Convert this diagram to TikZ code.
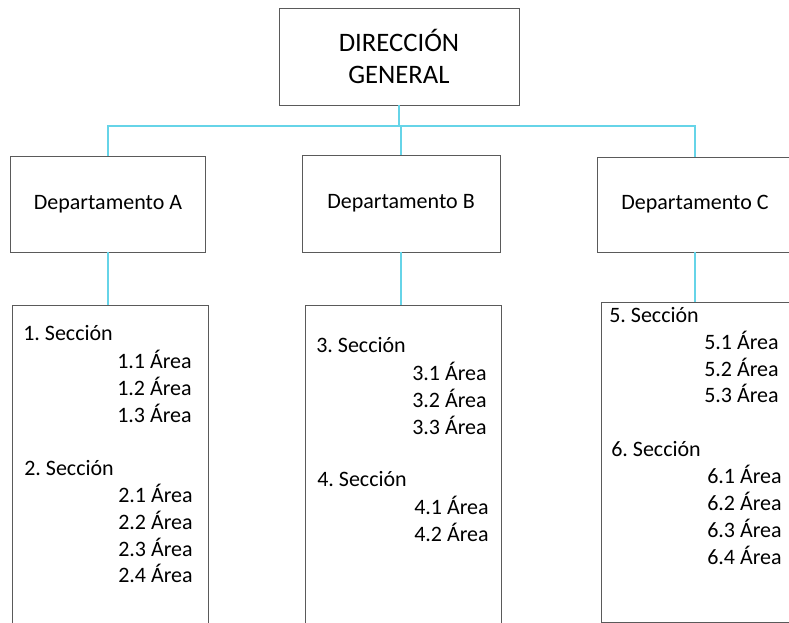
\documentclass[tikz,border=0pt]{standalone}
\usepackage{fontspec}
\setmainfont{Carlito}
\frenchspacing
\definecolor{boxgray}{HTML}{5A5A5A}
\definecolor{conncyan}{HTML}{66D4E8}
\begin{document}
\begin{tikzpicture}[x=0.75pt,y=-0.75pt,
  box/.style={draw=boxgray,line width=0.7pt,rectangle,inner sep=0pt,outer sep=0pt,align=center,font=\fontsize{16.5}{20}\selectfont},
  title/.style={box,font=\fontsize{20}{24}\selectfont},
  conn/.style={draw=conncyan,line width=1.3pt},
  item/.style={anchor=west,inner sep=0pt,font=\fontsize{16.5}{20}\selectfont}]
\clip (0,0) rectangle (789,623);
\fill[white] (0,0) rectangle (789,623);
% boxes
\node[title,minimum width=180pt,minimum height=72.75pt] (top) at (399,56.5) {DIRECCIÓN\\GENERAL};
\node[box,minimum width=146.25pt,minimum height=72pt] (depA) at (108,204) {Departamento A};
\node[box,minimum width=148.5pt,minimum height=72.75pt] (depB) at (401,203.5) {Departamento B};
\node[box,minimum width=147pt,minimum height=71.25pt] (depC) at (695,204.5) {Departamento C};
\node[box,minimum width=147pt,minimum height=251.25pt] (secA) at (110,472.5) {};
\node[box,minimum width=147pt,minimum height=251.25pt] (secB) at (403,472.5) {};
\node[box,minimum width=145.5pt,minimum height=240pt] (secC) at (698,462) {};
% connectors
\coordinate (hub) at (top.south |- 0,126);
\draw[conn] (top.south) -- (hub);
\draw[conn] (depA.north) |- (hub) -| (depC.north);
\draw[conn] (hub -| depB.north) -- (depB.north);
\draw[conn] (depA.south) -- (depA.south |- secA.north);
\draw[conn] (depB.south) -- (depB.south |- secB.north);
\draw[conn] (depC.south) -- (depC.south |- secC.north);
% section A
\node[item] (s1) at (23,333) {1. Sección};
\node[item] (a11) at (117,359) {1.1 Área};
\node[item] (a12) at (117,386) {1.2 Área};
\node[item] (a13) at (117,413) {1.3 Área};
\node[item] (s2) at (24,468) {2. Sección};
\node[item] (a21) at (118,493) {2.1 Área};
\node[item] (a22) at (118,520) {2.2 Área};
\node[item] (a23) at (118,547) {2.3 Área};
\node[item] (a24) at (118,573) {2.4 Área};
% section B
\node[item] (s3) at (316,345) {3. Sección};
\node[item] (a31) at (412,371) {3.1 Área};
\node[item] (a32) at (412,398) {3.2 Área};
\node[item] (a33) at (412,425) {3.3 Área};
\node[item] (s4) at (317,479) {4. Sección};
\node[item] (a41) at (414,505) {4.1 Área};
\node[item] (a42) at (414,532) {4.2 Área};
% section C
\node[item] (s5) at (609,315) {5. Sección};
\node[item] (a51) at (704,340) {5.1 Área};
\node[item] (a52) at (704,367) {5.2 Área};
\node[item] (a53) at (704,393) {5.3 Área};
\node[item] (s6) at (611,449) {6. Sección};
\node[item] (a61) at (707,474) {6.1 Área};
\node[item] (a62) at (707,501) {6.2 Área};
\node[item] (a63) at (707,528) {6.3 Área};
\node[item] (a64) at (707,555) {6.4 Área};
\end{tikzpicture}
\end{document}
